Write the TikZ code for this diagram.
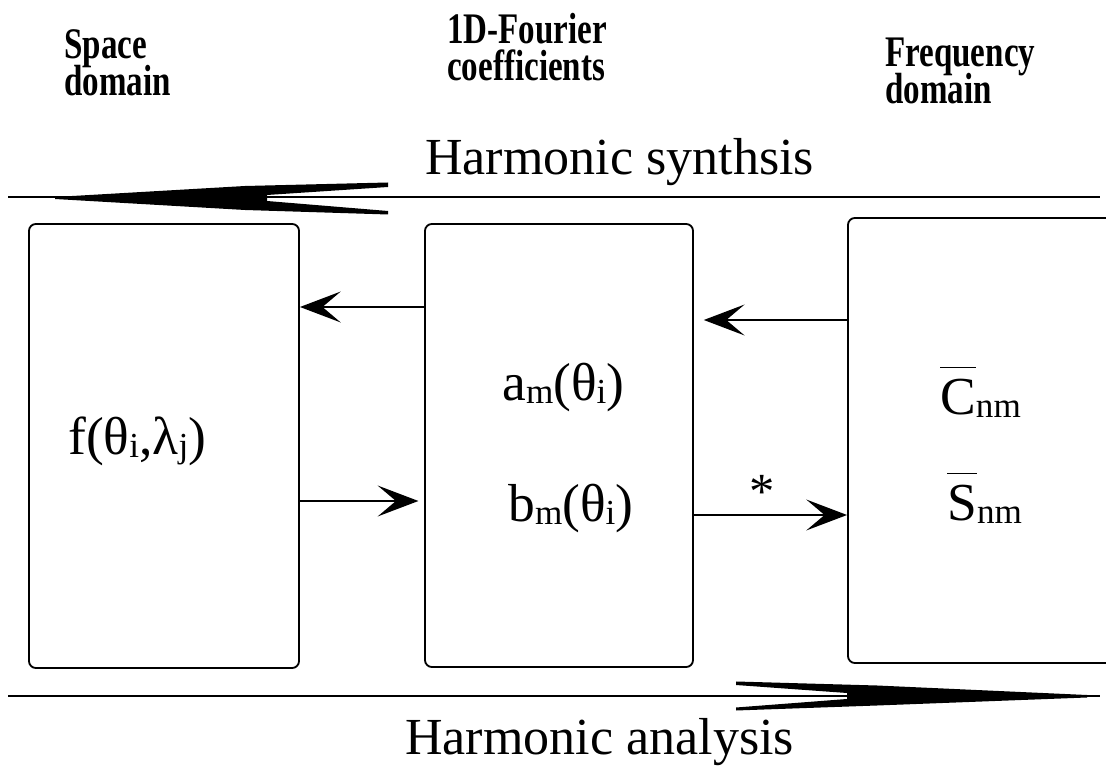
\documentclass[tikz,border=0pt]{standalone}
\usepackage{fontspec}
\setmainfont{Liberation Serif}
\usetikzlibrary{arrows.meta}

% small index letters, nearly on the base line
\newcommand{\lo}[1]{\raisebox{-1.5pt}{\fontsize{25}{25}\selectfont #1}}
% a letter with a bar over it
\newcommand{\ovbar}[1]{\setbox0\hbox{#1}\rlap{\raisebox{\dimexpr\ht0+8pt\relax}{\rule{\wd0}{1.3pt}}}\box0}
% tall, narrow column heads of two lines
\newcommand{\tallhead}[2]{\scalebox{1}[1.32]{\rlap{\raisebox{20pt}{#1}}#2}}

\tikzset{
	box/.style={draw, line width=1.3pt, rounded corners=5pt, inner sep=0pt},
	head/.style={font=\fontsize{23.5}{24}\selectfont\bfseries, anchor=base west, inner sep=0pt},
	big/.style={font=\fontsize{37}{40}\selectfont, anchor=base west, inner sep=0pt},
	term/.style={font=\fontsize{38}{40}\selectfont, anchor=base west, inner sep=0pt},
	tip/.style={line width=1.2pt, -{Stealth[length=29pt,width=22pt,inset=13pt]}},
}

\begin{document}
\begin{tikzpicture}[x=0.025cm, y=-0.025cm]
	\useasboundingbox (0,0) rectangle (1106,766);
	% column heads
	\node[head] (space) at (64,96) {\tallhead{Space}{domain}};
	\node[head] (fourier) at (447,81) {\tallhead{1D-Fourier}{coefficients}};
	\node[head] (freq) at (885,104) {\tallhead{Frequency}{domain}};
	\node[big] (synth) at (425,175) {Harmonic synthsis};
	\node[big] (anal) at (405,754) {Harmonic analysis};
	% the three boxes
	\node[box, minimum width=6.75cm, minimum height=11.1cm] (b1) at (164,446) {};
	\node[box, minimum width=6.7cm, minimum height=11.075cm] (b2) at (559,445.5) {};
	\node[box, minimum width=7cm, minimum height=11.125cm] (b3) at (988,440.5) {};
	\node[term] (f) at (68,455) {f(θ\lo{i},λ\lo{j})};
	\node[term] (am) at (502,401) {a\lo{m}(θ\lo{i})};
	\node[term] (bm) at (508,522) {b\lo{m}(θ\lo{i})};
	\node[term] (cnm) at (940,415) {\ovbar{C}\lo{nm}};
	\node[term] (snm) at (947,521) {\ovbar{S}\lo{nm}};
	% synthesis / analysis lines and their arrows
	\draw[line width=2pt] (8,197) -- (1100,197);
	\draw[line width=2pt] (8,696) -- (1100,696);
	\fill (55,197) -- (245,186) -- (388,182.5) -- (388,187) -- (267,195) -- (267,201)
		-- (388,211) -- (388,214.5) -- (245,210) -- (55,199) -- cycle;
	\fill (1087,695) -- (877,685.5) -- (736,681.5) -- (736,685) -- (847,693) -- (847,699)
		-- (736,707.5) -- (736,710.5) -- (877,705.5) -- (1087,697.5) -- cycle;
	% connectors
	\coordinate (y1) at (0,307);
	\coordinate (y2) at (0,501);
	\coordinate (y3) at (0,320);
	\coordinate (y4) at (0,515);
	\draw[tip] (b2.west |- y1) -- (b1.east |- y1);
	\draw[tip, shorten >=4pt] (b1.east |- y2) -- (b2.west |- y2);
	\draw[tip, shorten >=7pt] (b3.west |- y3) -- (b2.east |- y3);
	\draw[tip] (b2.east |- y4) -- (b3.west |- y4);
	\node[font=\fontsize{36}{36}\selectfont, anchor=base, inner sep=0pt] (star) at (762,509) {*};
\end{tikzpicture}
\end{document}
